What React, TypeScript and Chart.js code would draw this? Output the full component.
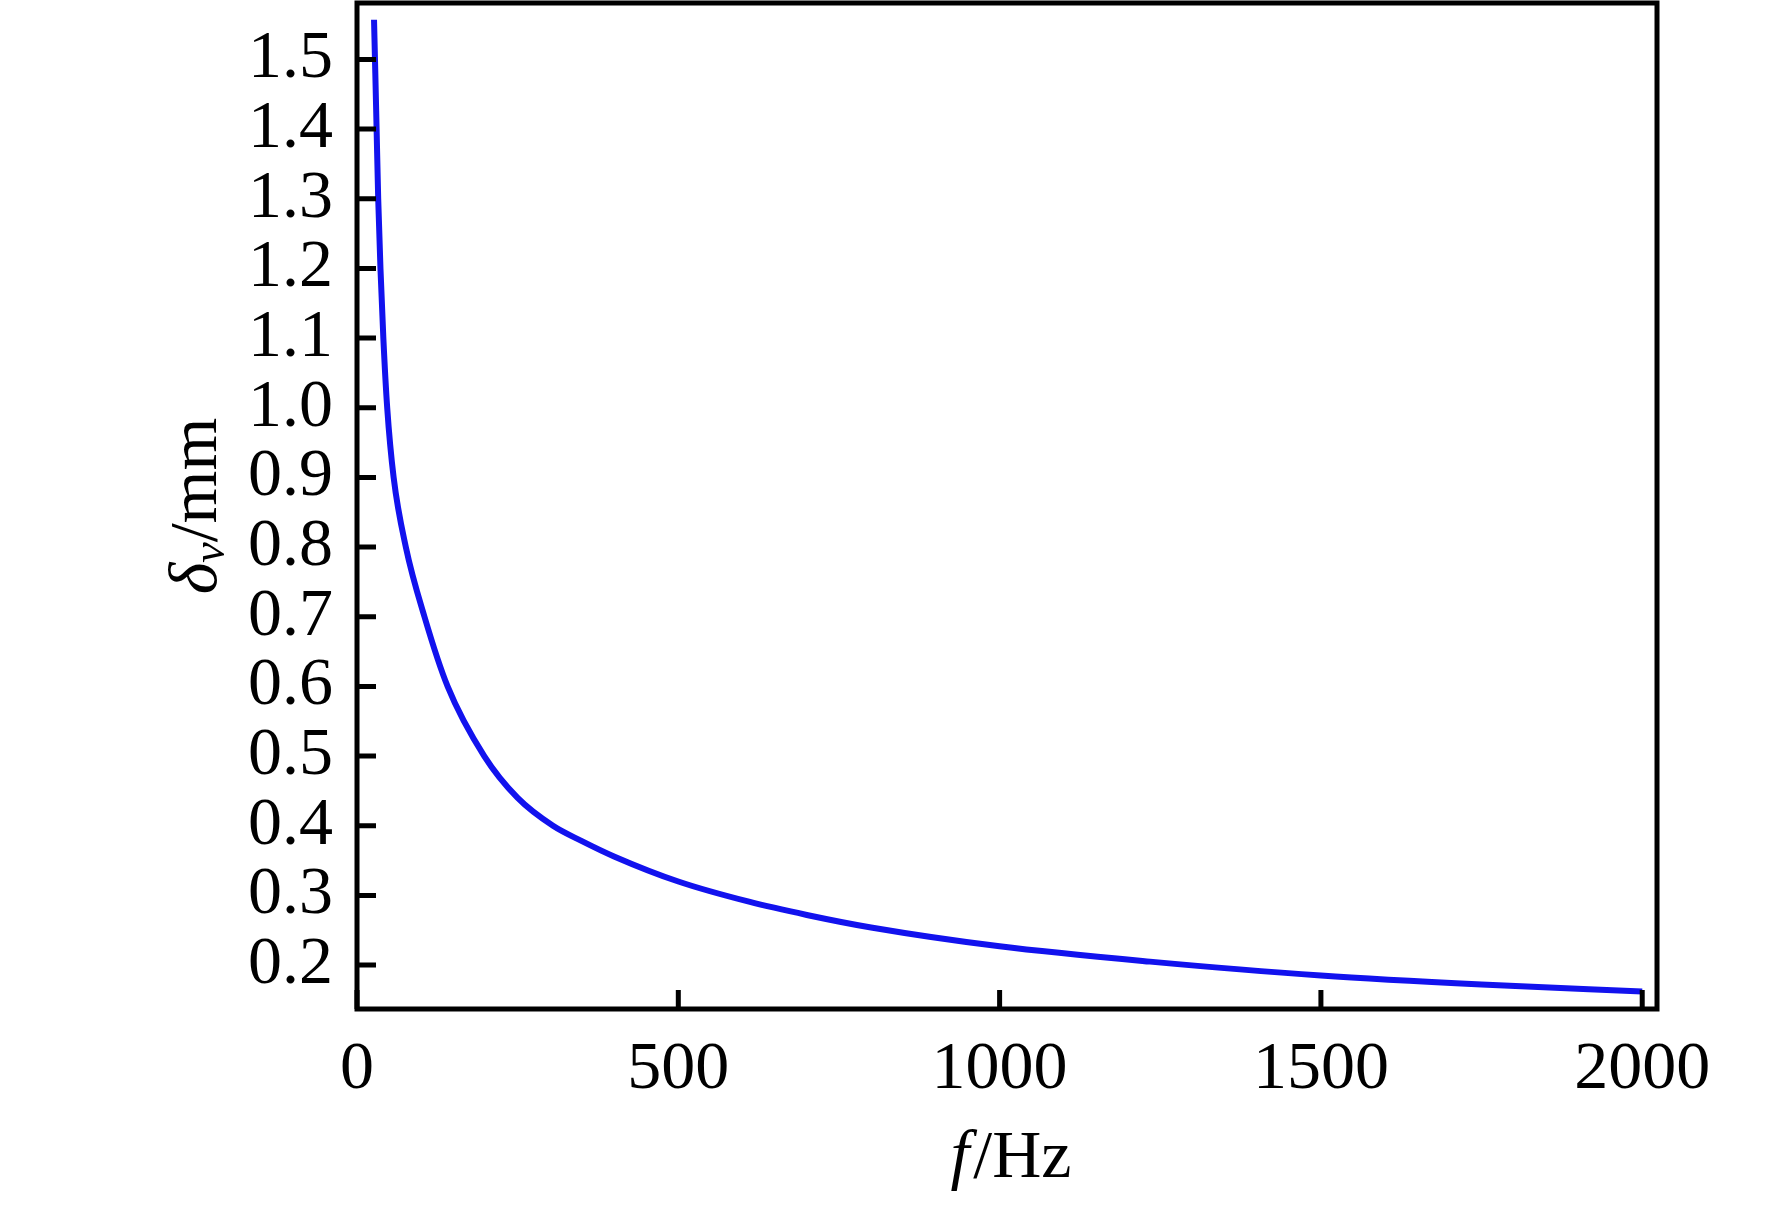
import { useEffect, useRef } from "react";
import { Chart, registerables } from "chart.js";

Chart.register(...registerables);

// ---- data ----
const FREQ_HZ = [26.5, 28.5, 30.5, 33, 36.5, 41, 47, 57, 76, 105, 141, 198, 250, 305, 350, 400, 500, 610, 700, 800, 1000, 1234, 1500, 1750, 2000];
const DELTA_MM = [1.557, 1.48, 1.4, 1.3, 1.2, 1.1, 1.0, 0.9, 0.8, 0.7, 0.6, 0.5, 0.44, 0.4, 0.378, 0.356, 0.32, 0.291, 0.272, 0.254, 0.227, 0.205, 0.185, 0.172, 0.162];

const X_TICKS = [0, 500, 1000, 1500, 2000];
const Y_TICKS = [0.2, 0.3, 0.4, 0.5, 0.6, 0.7, 0.8, 0.9, 1.0, 1.1, 1.2, 1.3, 1.4, 1.5];

const X_MIN = 0;
const X_MAX = 2023;
const Y_MIN = 0.137;
const Y_MAX = 1.581;

const X_TITLE_ITALIC = "f";
const X_TITLE_REST = "/Hz";
const Y_TITLE_SYMBOL = "δ";
const Y_TITLE_SUB = "v";
const Y_TITLE_REST = "/mm";

const SERIF = "'Liberation Serif', 'Times New Roman', Times, serif";
const FONT_SIZE = 68;

export default function App() {
  const canvasRef = useRef<HTMLCanvasElement | null>(null);

  useEffect(() => {
    document.body.style.margin = "0";
    const canvas = canvasRef.current;
    if (!canvas) return;

    const framePlugin = {
      id: "frameAndTitles",
      afterDatasetsDraw(chart: any) {
        const { ctx, chartArea } = chart;
        const xs = chart.scales.x;
        const ys = chart.scales.y;
        const tickLen = 19;
        ctx.save();
        ctx.strokeStyle = "#000";
        ctx.lineWidth = 5;
        ctx.lineCap = "butt";
        ctx.beginPath();
        for (const v of Y_TICKS) {
          const py = ys.getPixelForValue(v);
          ctx.moveTo(chartArea.left, py);
          ctx.lineTo(chartArea.left + tickLen, py);
        }
        for (const v of X_TICKS) {
          const px = xs.getPixelForValue(v);
          ctx.moveTo(px, chartArea.bottom);
          ctx.lineTo(px, chartArea.bottom - tickLen);
        }
        ctx.stroke();
        ctx.strokeRect(
          chartArea.left,
          chartArea.top,
          chartArea.right - chartArea.left,
          chartArea.bottom - chartArea.top
        );
        ctx.restore();
      },
      afterDraw(chart: any) {
        const { ctx, chartArea } = chart;
        ctx.save();
        ctx.fillStyle = "#000";
        ctx.textBaseline = "alphabetic";
        ctx.textAlign = "left";
        const T = FONT_SIZE;
        const italic = `italic ${T}px ${SERIF}`;
        const regular = `${T}px ${SERIF}`;
        const subFont = `italic ${Math.round(T * 0.68)}px ${SERIF}`;

        // x title
        ctx.font = italic;
        const wf = ctx.measureText(X_TITLE_ITALIC).width;
        ctx.font = regular;
        const wr = ctx.measureText(X_TITLE_REST).width;
        const cx = (chartArea.left + chartArea.right) / 2;
        const xStart = cx - (wf + wr) / 2 + 2;
        const xBase = 1177;
        ctx.font = italic;
        ctx.fillText(X_TITLE_ITALIC, xStart, xBase);
        ctx.font = regular;
        ctx.fillText(X_TITLE_REST, xStart + wf + 4, xBase);

        // y title (rotated)
        ctx.font = italic;
        const wd = ctx.measureText(Y_TITLE_SYMBOL).width;
        ctx.font = subFont;
        const wv = ctx.measureText(Y_TITLE_SUB).width;
        ctx.font = regular;
        const wm = ctx.measureText(Y_TITLE_REST).width;
        const total = wd + wv + wm;
        const cy = (chartArea.top + chartArea.bottom) / 2;
        ctx.translate(216, cy);
        ctx.rotate(-Math.PI / 2);
        let x0 = -total / 2;
        ctx.font = italic;
        ctx.fillText(Y_TITLE_SYMBOL, x0, 0);
        x0 += wd;
        ctx.font = subFont;
        ctx.fillText(Y_TITLE_SUB, x0, T * 0.12);
        x0 += wv;
        ctx.font = regular;
        ctx.fillText(Y_TITLE_REST, x0, 0);
        ctx.restore();
      },
    };

    const chart = new Chart(canvas, {
      type: "line",
      data: {
        datasets: [
          {
            data: FREQ_HZ.map((f, i) => ({ x: f, y: DELTA_MM[i] })),
            borderColor: "#1212ee",
            borderWidth: 6,
            pointRadius: 0,
            fill: false,
            cubicInterpolationMode: "monotone",
          },
        ],
      },
      options: {
        responsive: false,
        animation: false,
        devicePixelRatio: 1,
        layout: { padding: { left: 0, top: 3, right: 115, bottom: 0 } },
        plugins: { legend: { display: false }, tooltip: { enabled: false } },
        scales: {
          x: {
            type: "linear",
            min: X_MIN,
            max: X_MAX,
            grid: { display: false },
            border: { display: false },
            afterBuildTicks: (s: any) => {
              s.ticks = X_TICKS.map((v) => ({ value: v }));
            },
            afterFit: (s: any) => {
              s.height = 208;
              s.paddingLeft = 0;
              s.paddingRight = 0;
            },
            ticks: {
              autoSkip: false,
              maxRotation: 0,
              padding: 12,
              color: "#000",
              font: { family: SERIF, size: FONT_SIZE },
              callback: (v: any) => String(v),
            },
          },
          y: {
            type: "linear",
            min: Y_MIN,
            max: Y_MAX,
            grid: { display: false },
            border: { display: false },
            afterBuildTicks: (s: any) => {
              s.ticks = Y_TICKS.map((v) => ({ value: v }));
            },
            afterFit: (s: any) => {
              s.width = 357;
              s.paddingTop = 0;
              s.paddingBottom = 0;
            },
            ticks: {
              autoSkip: false,
              padding: 16,
              color: "#000",
              font: { family: SERIF, size: FONT_SIZE },
              callback: (v: any) => Number(v).toFixed(1),
            },
          },
        },
      },
      plugins: [framePlugin],
    } as any);

    return () => chart.destroy();
  }, []);

  return (
    <div style={{ width: 1772, height: 1217, background: "#fff" }}>
      <canvas ref={canvasRef} width={1772} height={1217} style={{ display: "block" }} />
    </div>
  );
}
